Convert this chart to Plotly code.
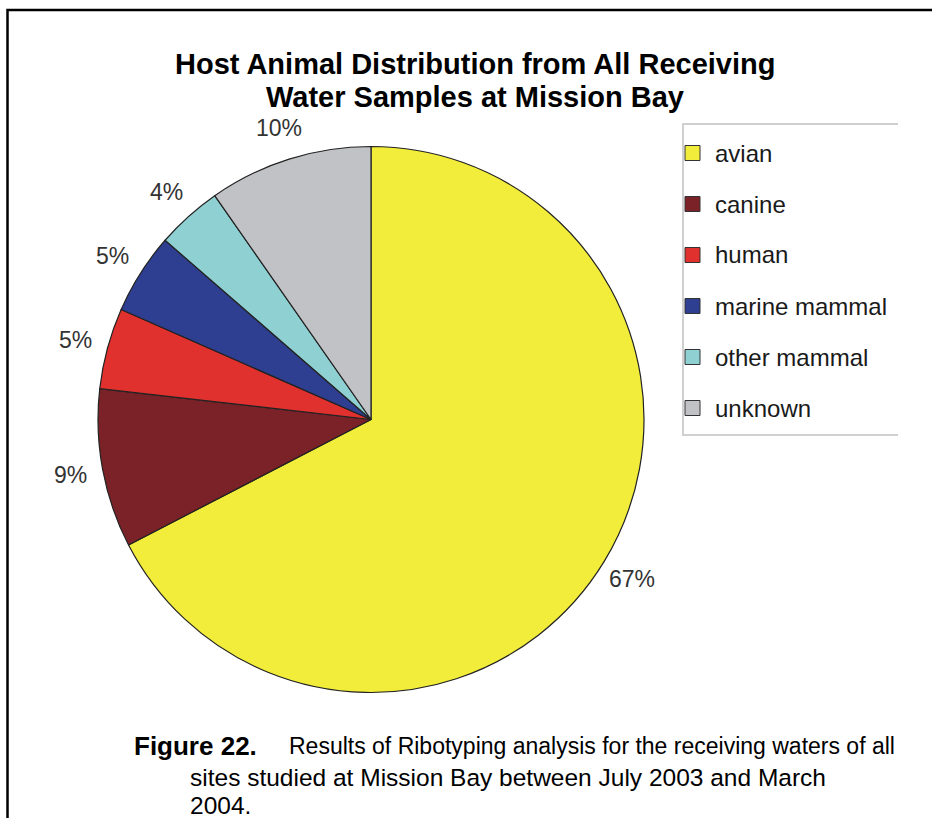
import numpy as np
import plotly.graph_objects as go

# ---- data ----
categories = ["avian", "canine", "human", "marine mammal", "other mammal", "unknown"]
values = [67.4, 9.4, 4.8, 4.8, 3.9, 9.7]          # shares
value_labels = ["67%", "9%", "5%", "5%", "4%", "10%"]
colors = ["#F2EC3B", "#7A2227", "#E1312F", "#2E3F92", "#8FD0D2", "#C1C2C6"]
title_lines = ["Host Animal Distribution from All Receiving", "Water Samples at Mission Bay"]
caption_head = "Figure 22."
caption_lines = [
    "Results of Ribotyping analysis for the receiving waters of all",
    "sites studied at Mission Bay between July 2003 and March",
    "2004.",
]

W, H = 932, 818
cx, cy, R = 371, 419.5, 273  # pie centre / radius in px (from top-left)


def px(x):
    return x / W


def py(y):
    return 1 - y / H


fig = go.Figure()
fig.add_trace(go.Pie(
    labels=categories,
    values=values,
    sort=False,
    direction="clockwise",
    rotation=0,
    marker=dict(colors=colors, line=dict(color="#222222", width=1.2)),
    textinfo="none",
    hoverinfo="label+percent",
    showlegend=False,
    domain=dict(x=[px(cx - R), px(cx + R)], y=[py(cy + R), py(cy - R)]),
))

annotations = []
shapes = []

# percent labels outside each slice
vals = np.array(values, dtype=float)
cum = np.cumsum(vals) - vals / 2
frac = cum / vals.sum()
ang = 2 * np.pi * frac
rl = 306
for lab, a in zip(value_labels, ang):
    x = cx + rl * np.sin(a)
    y = cy - rl * np.cos(a)
    annotations.append(dict(
        x=px(x), y=py(y), xref="paper", yref="paper", text=lab,
        showarrow=False, xanchor="center", yanchor="middle",
        font=dict(family="Liberation Sans, Arial", size=23, color="#333333"),
    ))

# title
for i, t in enumerate(title_lines):
    annotations.append(dict(
        x=px(475), y=py(64 + 33 * i), xref="paper", yref="paper", text=f"<b>{t}</b>",
        showarrow=False, xanchor="center", yanchor="middle",
        font=dict(family="Liberation Sans, Arial", size=29, color="#000000"),
    ))

# legend (manual, to match spacing)
leg_y0 = 153
leg_dy = 51
for i, (c, name) in enumerate(zip(colors, categories)):
    yy = leg_y0 + leg_dy * i
    shapes.append(dict(
        type="rect", xref="paper", yref="paper",
        x0=px(685), x1=px(700), y0=py(yy + 7.5), y1=py(yy - 7.5),
        fillcolor=c, line=dict(color="#333333", width=1),
    ))
    annotations.append(dict(
        x=px(713), y=py(yy), xref="paper", yref="paper", text=name,
        showarrow=False, xanchor="left", yanchor="middle",
        font=dict(family="Liberation Sans, Arial", size=24, color="#1a1a1a"),
    ))
shapes.append(dict(
    type="path", xref="paper", yref="paper",
    path=f"M {px(898)} {py(124)} L {px(683)} {py(124)} L {px(683)} {py(435)} L {px(898)} {py(435)}",
    line=dict(color="#D0D0D0", width=2),
))

# caption
annotations.append(dict(
    x=px(132), y=py(746), xref="paper", yref="paper", text=f"<b>{caption_head}</b>",
    showarrow=False, xanchor="left", yanchor="middle",
    font=dict(family="Liberation Sans, Arial", size=26, color="#000000"),
))
cap_x = [287, 188, 188]
cap_y = [746, 777, 805]
cap_size = [23, 24.5, 24.5]
for t, xx, yy, fs in zip(caption_lines, cap_x, cap_y, cap_size):
    annotations.append(dict(
        x=px(xx), y=py(yy), xref="paper", yref="paper", text=t,
        showarrow=False, xanchor="left", yanchor="middle",
        font=dict(family="Liberation Sans, Arial", size=fs, color="#000000"),
    ))

# outer frame (top and left)
shapes.append(dict(
    type="path", xref="paper", yref="paper",
    path=f"M {px(932)} {py(10)} L {px(7.5)} {py(10)} L {px(7.5)} {py(818)}",
    line=dict(color="#000000", width=2.5),
))

fig.update_layout(
    width=W, height=H,
    margin=dict(l=0, r=0, t=0, b=0),
    paper_bgcolor="white", plot_bgcolor="white",
    annotations=annotations, shapes=shapes,
    showlegend=False,
)

fig.write_html("out.html")
